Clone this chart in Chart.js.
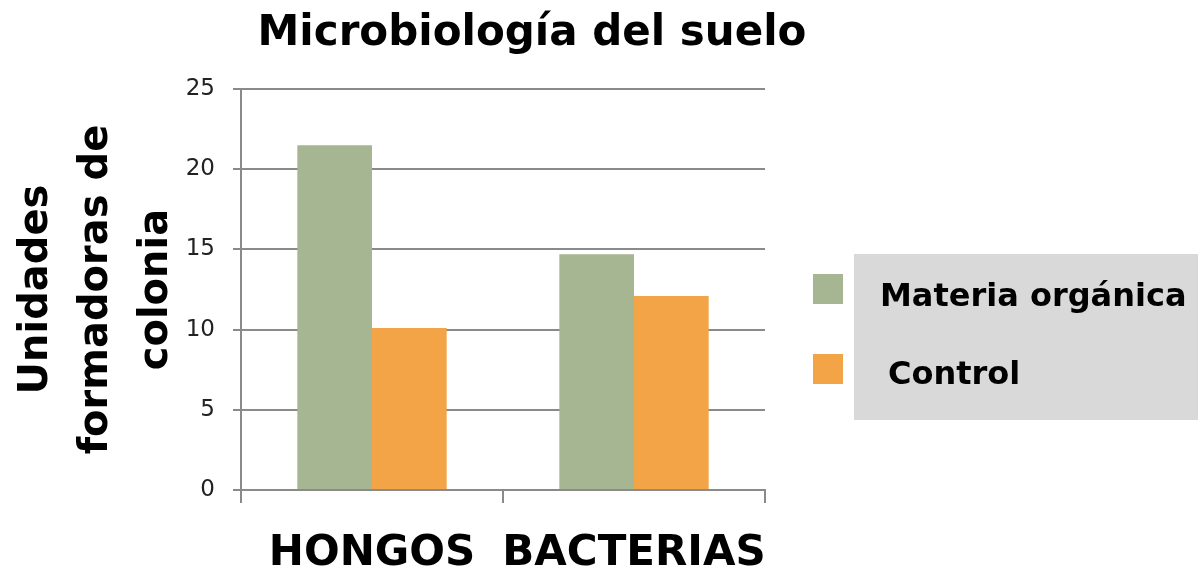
<!DOCTYPE html>
<html>
<head>
<meta charset="utf-8">
<script src="https://cdn.jsdelivr.net/npm/chart.js@4"></script>
<style>
  html, body { margin: 0; padding: 0; background: #fff; }
  #wrap { position: relative; width: 1198px; height: 575px; }
  #overlay { position: absolute; left: 0; top: 0; width: 1198px; height: 575px; pointer-events: none; }
  #titulo { position: absolute; left: 0; top: 6px; width: 1064px; text-align: center; font: bold 42px "DejaVu Sans", sans-serif; color: #000; white-space: nowrap; }
  .lg-box { position: absolute; left: 854px; top: 254px; width: 344px; height: 166px; background: #d9d9d9; }
  .lg-sw { position: absolute; width: 30px; height: 30px; }
  .lg-txt { position: absolute; font: bold 32px "DejaVu Sans", sans-serif; color: #000; white-space: nowrap; }
</style>
</head>
<body>
<div id="wrap">
  <canvas id="chart" width="1198" height="575"></canvas>
  <div id="overlay"><div id="titulo"></div><div class="lg-box"></div></div>
</div>
<script>
// datos
const categorias = ['HONGOS', 'BACTERIAS'];
const materiaOrganica = [21.5, 14.7];
const control = [10.1, 12.1];
const serieNombres = ['Materia orgánica', 'Control'];
const yTicks = [0, 5, 10, 15, 20, 25];
const tituloTexto = 'Microbiología del suelo';

const verde = '#a6b592';
const naranja = '#f2a447';
const gris = '#8a8a8a';

const ctx = document.getElementById('chart').getContext('2d');
const chart = new Chart(ctx, {
    type: 'bar',
    data: {
        labels: categorias,
        datasets: [{
            label: serieNombres[0],
            data: materiaOrganica,
            backgroundColor: verde,
            borderWidth: 0
        }, {
            label: serieNombres[1],
            data: control,
            backgroundColor: naranja,
            borderWidth: 0
        }]
    },
    options: {
        responsive: false,
        animation: false,
        layout: {
            padding: { top: 89, right: 433, bottom: 0, left: 0 }
        },
        datasets: {
            bar: { categoryPercentage: 0.57, barPercentage: 1 }
        },
        plugins: {
            legend: { display: false },
            tooltip: { enabled: false },
            title: { display: false }
        },
        scales: {
            x: {
                grid: {
                    offset: true,
                    drawOnChartArea: false,
                    color: gris,
                    lineWidth: 2,
                    tickLength: 13
                },
                border: { color: gris, width: 2 },
                ticks: {
                    color: '#000',
                    padding: 26,
                    autoSkip: false,
                    maxRotation: 0,
                    minRotation: 0,
                    font: { family: 'DejaVu Sans', size: 42, weight: 'bold' }
                },
                afterFit: function(scale) { scale.height = 85; }
            },
            y: {
                min: 0,
                max: 25,
                afterBuildTicks: function(scale) {
                    scale.ticks = yTicks.map(v => ({ value: v }));
                },
                grid: {
                    color: gris,
                    lineWidth: 2,
                    tickLength: 8
                },
                border: { color: gris, width: 2 },
                ticks: {
                    color: '#222',
                    padding: 18,
                    font: { family: 'DejaVu Sans', size: 23 }
                },
                title: {
                    display: true,
                    text: ['Unidades', 'formadoras de', 'colonia'],
                    color: '#000',
                    font: { family: 'DejaVu Sans', size: 40, weight: 'bold', lineHeight: 1.5 },
                    padding: { top: 7, bottom: 0 }
                },
                afterFit: function(scale) { scale.width = 241; }
            }
        }
    }
});

// título y leyenda
document.getElementById('titulo').textContent = tituloTexto;
const overlay = document.getElementById('overlay');
const swTop = [274, 354];
const txtPos = [[880, 276], [888, 354]];
chart.data.datasets.forEach((ds, i) => {
    const sw = document.createElement('div');
    sw.className = 'lg-sw';
    sw.style.left = '813px';
    sw.style.top = swTop[i] + 'px';
    sw.style.background = ds.backgroundColor;
    overlay.appendChild(sw);
    const t = document.createElement('div');
    t.className = 'lg-txt';
    t.style.left = txtPos[i][0] + 'px';
    t.style.top = txtPos[i][1] + 'px';
    t.textContent = ds.label;
    overlay.appendChild(t);
});
</script>
</body>
</html>
